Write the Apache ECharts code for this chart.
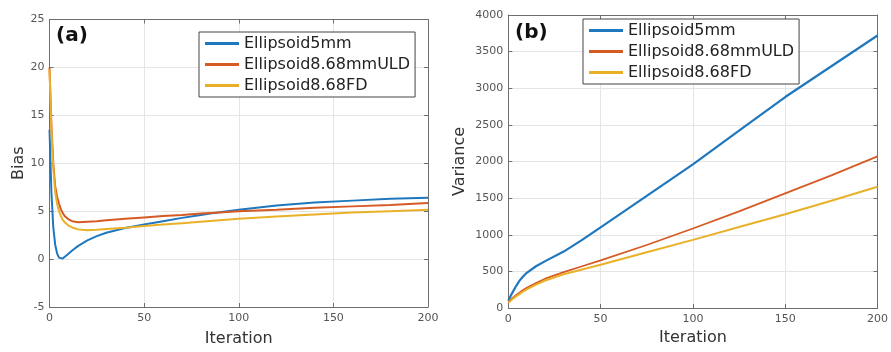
<!DOCTYPE html>
<html>
<head>
<meta charset="utf-8">
<script src="https://cdn.jsdelivr.net/npm/echarts@6/dist/echarts.min.js"></script>
<style>
	html, body { margin: 0; padding: 0; background: #fff; }
	#main { width: 891px; height: 352px; }
</style>
</head>
<body>
<div id="main"></div>
<script>
// (a) Bias
var iterA = [0, 1, 2, 3, 4, 5, 6, 7, 8, 10, 12, 15, 20, 25, 30, 40, 50, 60, 70, 80, 90, 100, 120, 140, 160, 180, 200];
var biasE5 = [13.5, 7.0, 3.3, 1.5, 0.6, 0.15, 0.0, 0.05, 0.2, 0.55, 0.9, 1.35, 1.95, 2.4, 2.75, 3.25, 3.6, 3.95, 4.3, 4.6, 4.9, 5.15, 5.6, 5.9, 6.1, 6.3, 6.4];
var biasULD = [20.0, 14.0, 10.0, 7.6, 6.5, 5.8, 5.2, 4.8, 4.5, 4.15, 3.95, 3.85, 3.9, 3.95, 4.05, 4.2, 4.35, 4.5, 4.6, 4.75, 4.85, 5.0, 5.15, 5.35, 5.5, 5.65, 5.85];
var biasFD = [19.8, 13.5, 9.5, 7.0, 5.8, 5.0, 4.5, 4.1, 3.85, 3.5, 3.3, 3.1, 3.02, 3.05, 3.15, 3.28, 3.45, 3.6, 3.75, 3.9, 4.05, 4.2, 4.45, 4.65, 4.85, 5.0, 5.15];

// (b) Variance
var iterB = [0, 2, 4, 6, 8, 10, 15, 20, 30, 40, 50, 75, 100, 125, 150, 175, 200];
var varE5 = [100, 200, 290, 370, 430, 480, 570, 640, 770, 930, 1100, 1530, 1960, 2420, 2880, 3300, 3720];
var varULD = [80, 130, 170, 210, 245, 275, 340, 400, 490, 570, 650, 860, 1085, 1320, 1565, 1810, 2070];
var varFD = [70, 115, 155, 190, 225, 255, 320, 375, 460, 525, 590, 760, 930, 1105, 1280, 1465, 1655];

var names = ['Ellipsoid5mm', 'Ellipsoid8.68mmULD', 'Ellipsoid8.68FD'];
var colors = ['#1f77bd', '#d65a24', '#e9b128'];

function pairs(xs, ys) {
	var out = [];
	for (var i = 0; i < xs.length; i++) {
		out.push([xs[i], ys[i]]);
	}
	return out;
}

var tickLabel = { color: '#555', fontSize: 11, fontFamily: 'DejaVu Sans', formatter: function (v) { return String(v); } };
var nameText = { color: '#333', fontSize: 16, fontFamily: 'DejaVu Sans' };
var boxLine = { show: true, onZero: false, lineStyle: { color: '#6e6e6e', width: 1 } };
var gridLine = { show: true, lineStyle: { color: '#e5e5e5', width: 1 } };

function xAxisFor(gi, withName, gap) {
	return {
		type: 'value', gridIndex: gi, min: 0, max: 200, interval: 50,
		position: withName ? 'bottom' : 'top',
		name: withName ? 'Iteration' : '', nameLocation: 'middle', nameGap: gap || 21,
		nameTextStyle: nameText,
		axisLine: boxLine,
		axisTick: { show: true, inside: true, length: 4, lineStyle: { color: '#6e6e6e' } },
		axisLabel: withName ? Object.assign({ margin: 6 }, tickLabel) : { show: false },
		splitLine: withName ? gridLine : { show: false }
	};
}

function yAxisFor(gi, withName, opt) {
	return {
		type: 'value', gridIndex: gi, min: opt.min, max: opt.max, interval: opt.interval,
		position: withName ? 'left' : 'right',
		name: withName ? opt.name : '', nameLocation: 'middle', nameGap: opt.gap,
		nameTextStyle: nameText,
		axisLine: boxLine,
		axisTick: { show: true, inside: true, length: 4, lineStyle: { color: '#6e6e6e' } },
		axisLabel: withName ? Object.assign({ margin: 5 }, tickLabel) : { show: false },
		splitLine: withName ? gridLine : { show: false }
	};
}

function line(name, idx, data, xi, yi, w) {
	return {
		name: name, type: 'line', xAxisIndex: xi, yAxisIndex: yi,
		data: data, smooth: false, showSymbol: false,
		lineStyle: { color: colors[idx], width: w },
		itemStyle: { color: colors[idx] }
	};
}

function legendFor(left, top, h) {
	return {
		orient: 'vertical', left: left, top: top,
		data: names,
		borderColor: '#444', borderWidth: 1, backgroundColor: '#fff', borderRadius: 0,
		padding: [3, 5, 3, 6], itemGap: 4, itemWidth: 34, itemHeight: h,
		icon: 'rect',
		textStyle: { color: '#222', fontSize: 16, fontFamily: 'DejaVu Sans', lineHeight: 17 }
	};
}

var chart = echarts.init(document.getElementById('main'));

var option = {
	animation: false,
	backgroundColor: '#fff',
	grid: [
		{ left: 49.5, top: 19.5, width: 378.5, height: 294.5 },
		{ left: 508.3, top: 15, width: 377.4, height: 293 }
	],
	xAxis: [
		xAxisFor(0, true, 24), xAxisFor(0, false),
		xAxisFor(1, true, 21), xAxisFor(1, false)
	],
	yAxis: [
		yAxisFor(0, true, { min: -5, max: 25, interval: 5, name: 'Bias', gap: 23 }),
		yAxisFor(0, false, { min: -5, max: 25, interval: 5 }),
		yAxisFor(1, true, { min: 0, max: 4000, interval: 500, name: 'Variance', gap: 40 }),
		yAxisFor(1, false, { min: 0, max: 4000, interval: 500 })
	],
	legend: [],
	graphic: [
		{ type: 'text', left: 56, top: 26, style: { text: '(a)', font: 'bold 20px "DejaVu Sans"', fill: '#111' } },
		{ type: 'text', left: 515, top: 23, style: { text: '(b)', font: 'bold 20px "DejaVu Sans"', fill: '#111' } }
	],
	series: [
		line(names[0], 0, pairs(iterA, biasE5), 0, 0, 2),
		line(names[1], 1, pairs(iterA, biasULD), 0, 0, 2),
		line(names[2], 2, pairs(iterA, biasFD), 0, 0, 2),
		line(names[0], 0, pairs(iterB, varE5), 2, 2, 2.2),
		line(names[1], 1, pairs(iterB, varULD), 2, 2, 1.8),
		line(names[2], 2, pairs(iterB, varFD), 2, 2, 2)
	]
};

// 两个图例各自一个框
option.legend.push(legendFor(199, 32, 3));
option.legend.push(legendFor(583, 19, 3));

chart.setOption(option);
</script>
</body>
</html>
